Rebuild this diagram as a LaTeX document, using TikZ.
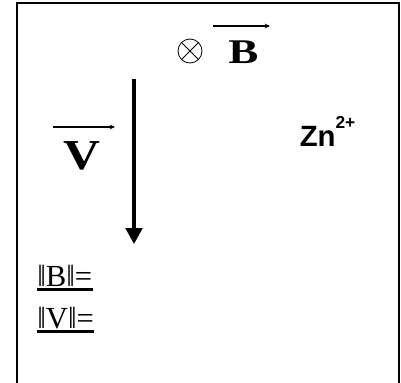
\documentclass[tikz,border=0pt]{standalone}
\usepackage{fontspec}
\setmainfont{Liberation Serif}
\newfontfamily\ionfont{Liberation Sans}
\usetikzlibrary{arrows.meta}

\newcommand{\stretchx}[2]{\scalebox{#1}[1]{#2}}

\begin{document}
\begin{tikzpicture}[x=0.75pt, y=-0.75pt,
        frame/.style={line width=1.5pt, black},
        vecbar/.style={-{Stealth[length=4pt, width=3.5pt]}, line width=0.8pt},
        vel/.style={-{Triangle[length=12pt, width=12.5pt]}, line width=2.4pt},
        vecname/.style={inner sep=0pt, anchor=base},
        norm/.style={inner sep=0pt, anchor=base west,
            font=\fontsize{23}{26}\selectfont},
        uline/.style={line width=1.6pt}
      ]
      \useasboundingbox (0,0) rectangle (401,383);

      % frame, open at the bottom
      \draw[frame] (16.5,383) -- (16.5,3) -- (398.5,3) -- (398.5,383);

      % magnetic field into the page
      \node[circle, draw, line width=0.6pt, minimum size=18pt, inner sep=0pt] at (190,51) (cross) {};
      \draw[line width=0.6pt] (cross.north west) -- (cross.south east);
      \draw[line width=0.6pt] (cross.north east) -- (cross.south west);
      \node[vecname, font=\fontsize{26}{28}\selectfont\bfseries] at (243.5,63) (bname) {\stretchx{1.3}{B}};
      \coordinate (btail) at (213,26);
      \coordinate (bhead) at (270,26);
      \draw[vecbar] (btail) -- (bhead);

      % velocity label
      \node[vecname, font=\fontsize{32}{36}\selectfont\bfseries] at (81.5,169) (vname) {\stretchx{1.2}{V}};
      \coordinate (vtail) at (53,127);
      \coordinate (vhead) at (115,127);
      \draw[vecbar] (vtail) -- (vhead);

      % velocity arrow
      \coordinate (vtop) at (134,79);
      \coordinate (vtip) at (134,244);
      \draw[vel] (vtop) -- (vtip);

      % the ion
      \node[inner sep=0pt, anchor=base west,
            font=\ionfont\bfseries\fontsize{22}{26}\selectfont] at (299.5,146) (ion)
            {Zn\raisebox{13pt}{\fontsize{13}{15}\selectfont 2+}};

      % norms to fill in
      \node[norm] at (37,286) (bnorm) {‖B‖=};
      \node[norm] at (37,328) (vnorm) {‖V‖=};
      \draw[uline] ([yshift=-2.6pt]bnorm.base west) -- ([yshift=-2.6pt]bnorm.base east);
      \draw[uline] ([yshift=-2.6pt]vnorm.base west) -- ([yshift=-2.6pt]vnorm.base east);
    \end{tikzpicture}
\end{document}
